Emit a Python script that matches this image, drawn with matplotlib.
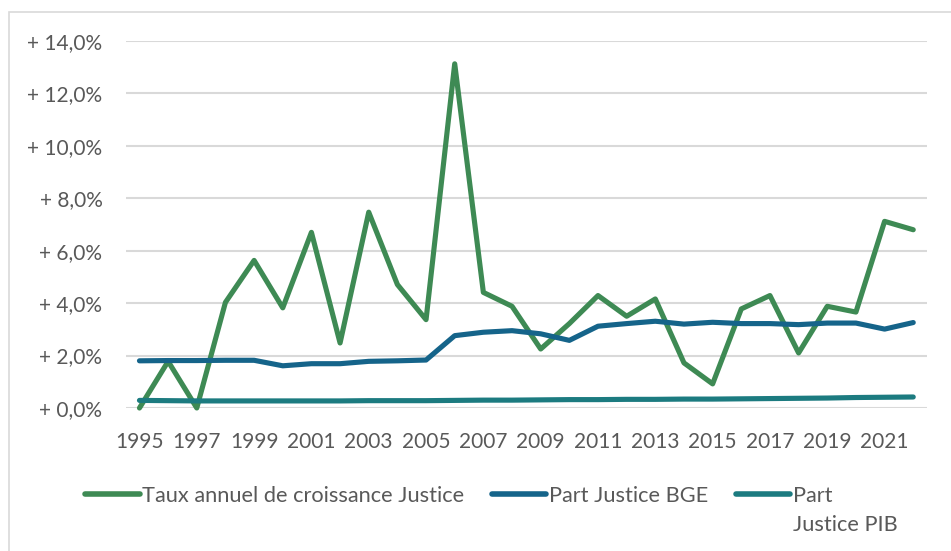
import matplotlib
matplotlib.use("Agg")
import matplotlib.pyplot as plt
from matplotlib.patches import Rectangle
from matplotlib.ticker import FuncFormatter, MultipleLocator

years = list(range(1995, 2023))
taux_croissance = [0.0, 1.78, 0.0, 4.03, 5.63, 3.82, 6.70, 2.48, 7.47, 4.71, 3.37, 13.13,
                   4.41, 3.88, 2.25, 3.22, 4.29, 3.50, 4.16, 1.72, 0.92, 3.78, 4.29, 2.10,
                   3.88, 3.66, 7.12, 6.80]
part_bge = [1.80, 1.81, 1.81, 1.82, 1.82, 1.61, 1.69, 1.69, 1.78, 1.80, 1.83, 2.76,
            2.89, 2.95, 2.83, 2.58, 3.12, 3.22, 3.31, 3.20, 3.27, 3.22, 3.22, 3.18,
            3.24, 3.24, 3.01, 3.26]
part_pib = [0.29, 0.28, 0.27, 0.27, 0.27, 0.27, 0.27, 0.27, 0.28, 0.28, 0.28, 0.29,
            0.30, 0.30, 0.31, 0.32, 0.32, 0.33, 0.33, 0.34, 0.34, 0.35, 0.36, 0.37,
            0.38, 0.40, 0.41, 0.42]
labels = ["Taux annuel de croissance Justice", "Part Justice BGE", "Part"]
label_extra = "Justice PIB"
colors = ["#3E8A54", "#15648A", "#1C7B80"]

plt.rcParams['font.family'] = ['Lato', 'DejaVu Sans']
txt = "#595959"

fig = plt.figure(figsize=(9.51, 5.51), dpi=100)
ax = fig.add_axes([126/951, 1-408/551, (927-126)/951, (408-41)/551])

for vals, c, lab in zip([taux_croissance, part_bge, part_pib], colors, labels):
    ax.plot(years, vals, color=c, lw=3.7, solid_capstyle='round', solid_joinstyle='round',
            clip_on=False, label=lab, zorder=3)

ax.set_ylim(0, 14)
ax.set_xlim(1994.53, 2022.48)
ax.yaxis.set_major_locator(MultipleLocator(2))
ax.yaxis.set_major_formatter(FuncFormatter(lambda v, p: "+ " + f"{v:.1f}".replace(".", ",") + "%"))
ax.set_xticks(years[::2])
ax.grid(axis='y', color='#D9D9D9', lw=1.5, zorder=0)
ax.set_axisbelow(True)
for s in ax.spines.values():
    s.set_visible(False)
ax.tick_params(axis='both', length=0, labelsize=15, colors=txt)
ax.tick_params(axis='y', pad=17)
ax.tick_params(axis='x', pad=17)

leg = fig.legend(loc='upper left', bbox_to_anchor=(85/951, 1-486/551), ncol=3, frameon=False,
                 fontsize=15.7, handlelength=2.5, handletextpad=0.13, columnspacing=1.25,
                 borderaxespad=0, borderpad=0)
for t in leg.get_texts():
    t.set_color(txt)
for h in leg.legend_handles:
    h.set_linewidth(4)

# wrapped continuation of the third legend label
fig.canvas.draw()
t3 = leg.get_texts()[2]
bb = t3.get_window_extent()
fig.text(bb.x0/951, (bb.y0 - 29)/551, label_extra, fontsize=15.7, color=txt, ha='left', va='bottom')

fig.patches.append(Rectangle((9/951, -0.5), 2, 1.5 - 12/551, transform=fig.transFigure,
                             fill=False, edgecolor='#D9D9D9', lw=1.2))

fig.savefig("out.png", dpi=100)
